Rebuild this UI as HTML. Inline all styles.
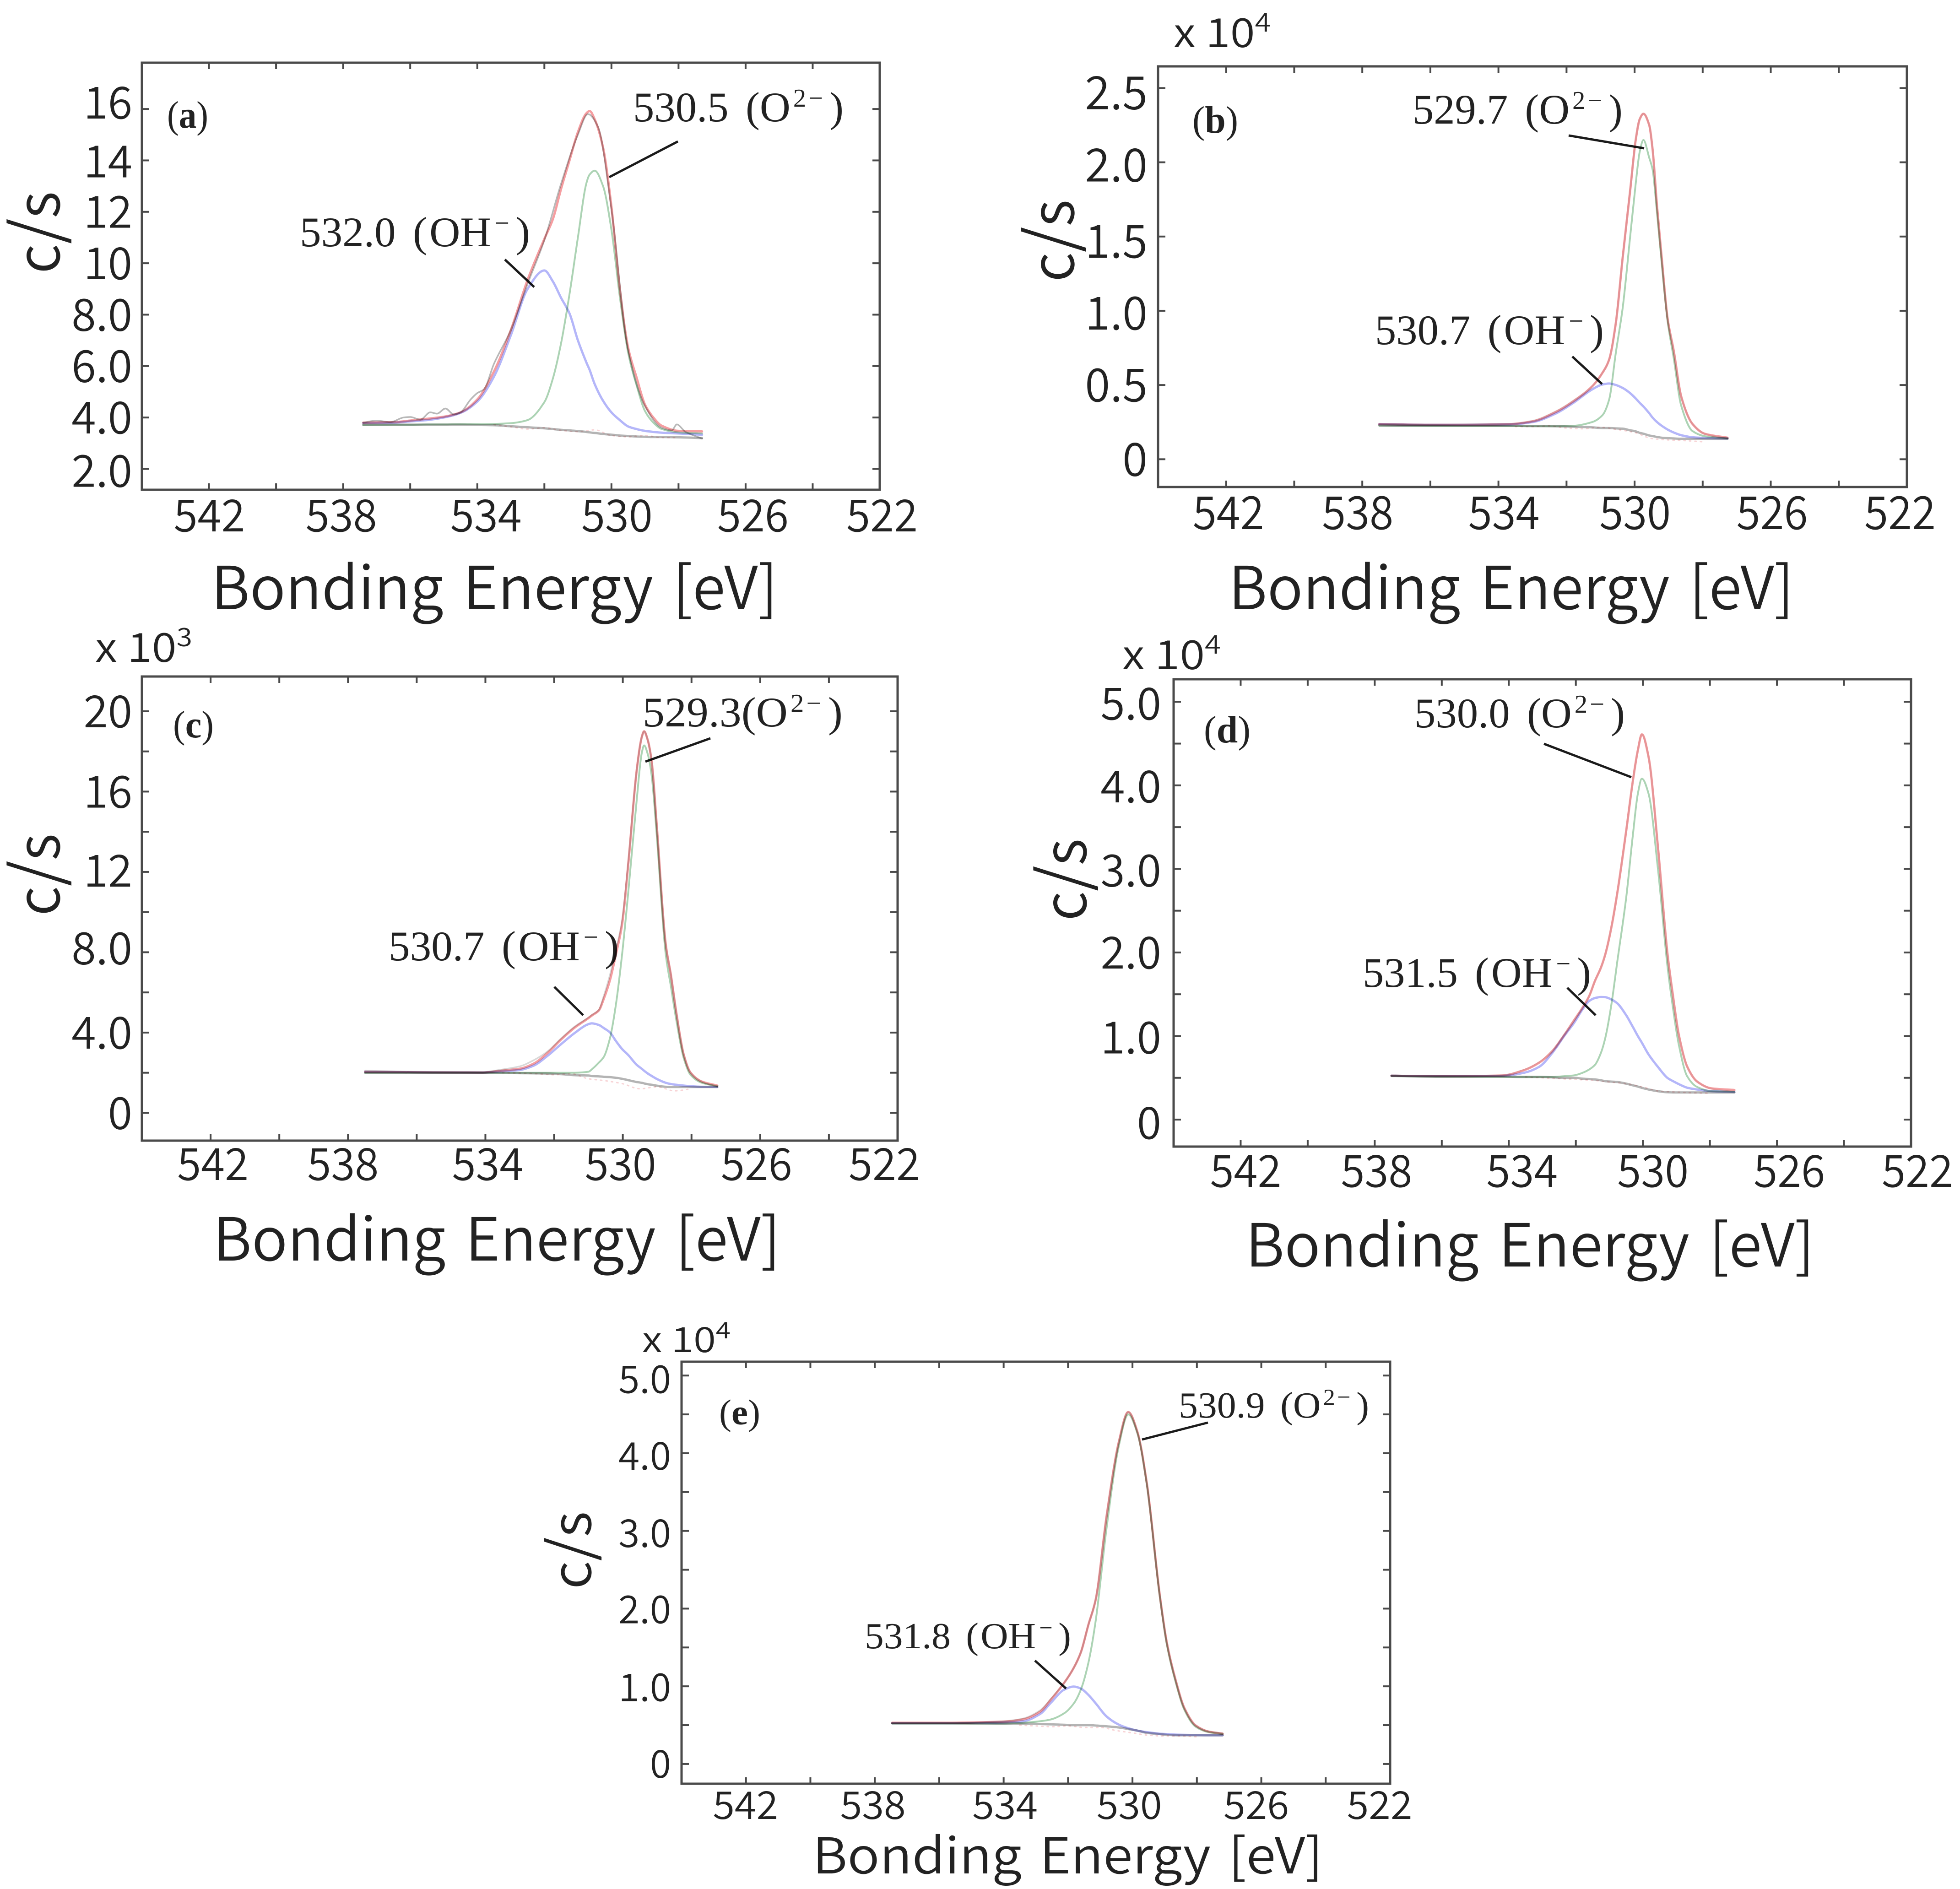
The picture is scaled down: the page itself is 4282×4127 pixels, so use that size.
<!DOCTYPE html>
<html lang="en">
<head>
<meta charset="utf-8">
<title>O 1s XPS spectra panels</title>
<style>
html,body{margin:0;padding:0;background:#fff;width:4282px;height:4127px;overflow:hidden}
svg{display:block}
.sans{font-family:"Noto Sans CJK JP","Liberation Sans",sans-serif;font-weight:350;fill:#222}
.serif{font-family:"Liberation Serif","Noto Serif CJK SC",serif;fill:#222}
.frame{fill:none;stroke:#4a4a4a;stroke-width:5}
.leader{stroke:#1a1a1a;stroke-width:5;fill:none}
.tick{stroke:#4a4a4a;stroke-width:4}
.curve{fill:none;stroke-linejoin:round;stroke-linecap:round;mix-blend-mode:multiply}
</style>
</head>
<body>
<svg id="chart" xmlns="http://www.w3.org/2000/svg" width="4282" height="4127" viewBox="0 0 4282 4127">
<rect width="4282" height="4127" fill="#fff"/>

<g id="panel-a">
<rect class="frame" x="310" y="137" width="1612" height="933"/>
<text class="sans" x="461" y="1331" font-size="130" word-spacing="14" textLength="1238" lengthAdjust="spacingAndGlyphs">Bonding Energy [eV]</text>
<text class="sans" transform="translate(130,598) rotate(-90)" font-size="130" textLength="180" lengthAdjust="spacingAndGlyphs">c<tspan font-size="146">/</tspan>s</text>
<text class="serif" x="365" y="279" font-size="84" textLength="90" lengthAdjust="spacingAndGlyphs">(<tspan font-weight="bold">a</tspan>)</text>
<text class="serif" x="1383" y="265" font-size="92" textLength="460" lengthAdjust="spacingAndGlyphs">530.5 <tspan dx="14">(</tspan>O<tspan dx="6" dy="-32" font-size="56">2</tspan><tspan dx="5" font-size="56">−</tspan><tspan dx="14" dy="32">)</tspan></text>
<text class="serif" x="655" y="538" font-size="92" textLength="503" lengthAdjust="spacingAndGlyphs">532.0 <tspan dx="14">(</tspan><tspan dx="5">OH</tspan><tspan dx="8" dy="-32" font-size="56">−</tspan><tspan dx="14" dy="32">)</tspan></text>
<line class="leader" x1="1481" y1="309" x2="1331" y2="387"/>
<line class="leader" x1="1103" y1="567" x2="1167" y2="627"/>
</g>

<g id="panel-b">
<rect class="frame" x="2530" y="145" width="1636" height="919"/>
<text class="sans" x="2684" y="1331" font-size="130" word-spacing="14" textLength="1235" lengthAdjust="spacingAndGlyphs">Bonding Energy [eV]</text>
<text class="sans" transform="translate(2346,616) rotate(-90)" font-size="130" textLength="180" lengthAdjust="spacingAndGlyphs">c<tspan font-size="146">/</tspan>s</text>
<text class="sans" x="2564" y="103" font-size="88" textLength="212" lengthAdjust="spacingAndGlyphs">x 10<tspan dy="-34" font-size="56">4</tspan></text>
<text class="serif" x="2605" y="290" font-size="84" textLength="100" lengthAdjust="spacingAndGlyphs">(<tspan font-weight="bold">b</tspan>)</text>
<text class="serif" x="3086" y="270" font-size="92" textLength="459" lengthAdjust="spacingAndGlyphs">529.7 <tspan dx="14">(</tspan>O<tspan dx="6" dy="-32" font-size="56">2</tspan><tspan dx="5" font-size="56">−</tspan><tspan dx="14" dy="32">)</tspan></text>
<text class="serif" x="3004" y="752" font-size="92" textLength="500" lengthAdjust="spacingAndGlyphs">530.7 <tspan dx="14">(</tspan><tspan dx="5">OH</tspan><tspan dx="8" dy="-32" font-size="56">−</tspan><tspan dx="14" dy="32">)</tspan></text>
<line class="leader" x1="3427" y1="296" x2="3592" y2="324"/>
<line class="leader" x1="3435" y1="779" x2="3500" y2="839"/>
</g>

<g id="panel-c">
<rect class="frame" x="310" y="1478" width="1651" height="1014"/>
<text class="sans" x="465" y="2754" font-size="130" word-spacing="14" textLength="1240" lengthAdjust="spacingAndGlyphs">Bonding Energy [eV]</text>
<text class="sans" transform="translate(130,2001) rotate(-90)" font-size="130" textLength="180" lengthAdjust="spacingAndGlyphs">c<tspan font-size="146">/</tspan>s</text>
<text class="sans" x="208" y="1446" font-size="88" textLength="212" lengthAdjust="spacingAndGlyphs">x 10<tspan dy="-34" font-size="56">3</tspan></text>
<text class="serif" x="378" y="1611" font-size="84" textLength="89" lengthAdjust="spacingAndGlyphs">(<tspan font-weight="bold">c</tspan>)</text>
<text class="serif" x="1404" y="1587" font-size="92" textLength="437" lengthAdjust="spacingAndGlyphs">529.3(O<tspan dx="6" dy="-32" font-size="56">2</tspan><tspan dx="5" font-size="56">−</tspan><tspan dx="14" dy="32">)</tspan></text>
<text class="serif" x="849" y="2098" font-size="92" textLength="503" lengthAdjust="spacingAndGlyphs">530.7 <tspan dx="14">(</tspan><tspan dx="5">OH</tspan><tspan dx="8" dy="-32" font-size="56">−</tspan><tspan dx="14" dy="32">)</tspan></text>
<line class="leader" x1="1552" y1="1613" x2="1410" y2="1664"/>
<line class="leader" x1="1211" y1="2156" x2="1274" y2="2218"/>
</g>

<g id="panel-d">
<rect class="frame" x="2564" y="1484" width="1611" height="1021"/>
<text class="sans" x="2721" y="2767" font-size="130" word-spacing="14" textLength="1243" lengthAdjust="spacingAndGlyphs">Bonding Energy [eV]</text>
<text class="sans" transform="translate(2373,2012) rotate(-90)" font-size="130" textLength="180" lengthAdjust="spacingAndGlyphs">c<tspan font-size="146">/</tspan>s</text>
<text class="sans" x="2452" y="1462" font-size="88" textLength="215" lengthAdjust="spacingAndGlyphs">x 10<tspan dy="-34" font-size="56">4</tspan></text>
<text class="serif" x="2630" y="1622" font-size="84" textLength="102" lengthAdjust="spacingAndGlyphs">(<tspan font-weight="bold">d</tspan>)</text>
<text class="serif" x="3090" y="1589" font-size="92" textLength="460" lengthAdjust="spacingAndGlyphs">530.0 <tspan dx="14">(</tspan>O<tspan dx="6" dy="-32" font-size="56">2</tspan><tspan dx="5" font-size="56">−</tspan><tspan dx="14" dy="32">)</tspan></text>
<text class="serif" x="2977" y="2156" font-size="92" textLength="499" lengthAdjust="spacingAndGlyphs">531.5 <tspan dx="14">(</tspan><tspan dx="5">OH</tspan><tspan dx="8" dy="-32" font-size="56">−</tspan><tspan dx="14" dy="32">)</tspan></text>
<line class="leader" x1="3373" y1="1625" x2="3564" y2="1698"/>
<line class="leader" x1="3424" y1="2158" x2="3486" y2="2218"/>
</g>

<g id="panel-e">
<rect class="frame" x="1489" y="2975" width="1548" height="922"/>
<text class="sans" x="1775" y="4093" font-size="108" word-spacing="12" textLength="1115" lengthAdjust="spacingAndGlyphs">Bonding Energy [eV]</text>
<text class="sans" transform="translate(1291,3472) rotate(-90)" font-size="118" textLength="170" lengthAdjust="spacingAndGlyphs">c<tspan font-size="130">/</tspan>s</text>
<text class="sans" x="1403" y="2954" font-size="76" textLength="193" lengthAdjust="spacingAndGlyphs">x 10<tspan dy="-30" font-size="50">4</tspan></text>
<text class="serif" x="1571" y="3112" font-size="78" textLength="90" lengthAdjust="spacingAndGlyphs">(<tspan font-weight="bold">e</tspan>)</text>
<text class="serif" x="2575" y="3097" font-size="80" textLength="416" lengthAdjust="spacingAndGlyphs">530.9 <tspan dx="12">(</tspan>O<tspan dx="5" dy="-28" font-size="50">2</tspan><tspan dx="4" font-size="50">−</tspan><tspan dx="12" dy="28">)</tspan></text>
<text class="serif" x="1889" y="3601" font-size="80" textLength="451" lengthAdjust="spacingAndGlyphs">531.8 <tspan dx="12">(</tspan><tspan dx="4">OH</tspan><tspan dx="7" dy="-28" font-size="50">−</tspan><tspan dx="12" dy="28">)</tspan></text>
<line class="leader" x1="2639" y1="3108" x2="2495" y2="3145"/>
<line class="leader" x1="2261" y1="3628" x2="2329" y2="3689"/>
</g>
</svg>

<script>
// Shared x axis
const xTickValues = [542, 540, 538, 536, 534, 532, 530, 528, 526, 524, 522];
const xLabelValues = [542, 538, 534, 530, 526, 522];
const residualEnergy = [533.5,533,532.5,532,531.5,531,530.5,530,529.5,529,528.5,528];

// Panel a
const aEnergy = [537.4,536.5,536,535.5,535,534.5,534,533.5,533,532.5,532,531.75,531.5,531.25,531,530.75,530.65,530.5,530.25,530,529.75,529.5,529.25,529,528.75,528.5,528,527.3];
const aEnvelope = [3.8,3.82,3.88,3.95,4.03,4.2,4.7,5.8,7.4,9.35,10.95,11.7,12.9,14.0,15.1,15.83,15.92,15.6,14.5,12.2,9.0,6.7,5.55,4.5,4.0,3.68,3.48,3.46];
const aOH = [3.78,3.8,3.85,3.9,4.0,4.18,4.62,5.6,7.2,9.0,9.72,9.3,8.65,8.05,7.0,6.15,5.85,5.3,4.65,4.2,3.9,3.65,3.55,3.48,3.44,3.41,3.38,3.33];
const aO2 = [3.7,3.72,3.72,3.73,3.73,3.74,3.74,3.75,3.78,3.9,4.6,5.5,6.9,8.8,11.0,13.1,13.45,13.6,13.0,11.3,8.7,6.5,5.25,4.25,3.8,3.55,3.42,3.38];
const aBase = [3.72,3.72,3.72,3.72,3.72,3.72,3.71,3.7,3.66,3.62,3.58,3.55,3.52,3.5,3.47,3.44,3.42,3.4,3.36,3.33,3.3,3.28,3.26,3.25,3.24,3.24,3.23,3.2];
const aRawEnergy = [537.4,537,536.6,536.2,536,535.7,535.4,535.2,534.95,534.7,534.5,534.2,534,533.8,533.5,533,532.5,532,531.5,531,530.7,530.4,530,529.5,529,528.5,528.2,528.05,527.8,527.3];
const aRaw = [3.8,3.88,3.82,4.0,4.02,3.92,4.2,4.15,4.35,4.12,4.2,4.7,4.95,5.1,6.1,7.4,9.2,10.9,13.1,15.0,15.8,15.3,12.1,6.6,4.45,3.6,3.5,3.73,3.45,3.18];
const aResidual = [3.72,3.64,3.55,3.6,3.5,3.45,3.52,3.3,3.25,3.3,3.22,3.22];
const aYTicks = [2,4,6,8,10,12,14,16];
const aYLabels = ["2.0","4.0","6.0","8.0","10","12","14","16"];

// Panel b
const bEnergy = [537.5,536,535,533.7,533,532.3,531.8,531.25,530.95,530.75,530.55,530.35,530.13,529.97,529.85,529.74,529.57,529.47,529.34,529.2,529.03,528.85,528.63,528.3,527.93,527.27];
const bEnvelope = [.236,.232,.232,.236,.255,.32,.39,.49,.58,.67,.92,1.36,1.81,2.146,2.29,2.327,2.25,2.085,1.7,1.348,.947,.73,.422,.238,.171,.145];
const bOH = [.236,.232,.232,.234,.25,.31,.38,.47,.503,.51,.50,.48,.445,.41,.38,.355,.31,.28,.25,.225,.2,.18,.162,.148,.143,.14];
const bO2 = [.226,.224,.224,.224,.222,.222,.225,.25,.295,.40,.72,1.02,1.5,1.85,2.07,2.15,2.03,1.95,1.655,1.31,.93,.68,.36,.19,.155,.14];
const bBase = [.228,.226,.225,.225,.224,.222,.219,.215,.21,.21,.208,.206,.195,.188,.178,.172,.16,.156,.15,.145,.142,.14,.138,.138,.138,.138];
const bRaw = [.24,.23,.235,.238,.26,.325,.395,.49,.58,.67,.92,1.36,1.81,2.146,2.29,2.327,2.25,2.085,1.7,1.348,.947,.73,.422,.238,.171,.14];
const bResidual = [.22,.22,.225,.21,.205,.215,.2,.18,.14,.13,.125,.118];
const bYTicks = [0,.5,1,1.5,2,2.5];
const bYLabels = ["0","0.5","1.0","1.5","2.0","2.5"];

// Panel c
const cEnergy = [537.5,536,534.1,533.6,533,532.6,532.2,531.8,531.4,531,530.9,530.7,530.55,530.37,530.2,530.02,529.84,529.6,529.45,529.38,529.28,529.16,529.02,528.75,528.6,528.44,528.23,528.03,527.7,527.25];
const cEnvelope = [2.05,2.02,2.01,2.09,2.2,2.45,2.97,3.65,4.25,4.72,4.85,5.1,5.7,6.64,7.9,9.4,12.4,17.0,18.7,19.0,18.6,17.5,14.5,8.4,6.87,4.97,2.92,2.01,1.56,1.36];
const cOH = [2.05,2.02,2.01,2.06,2.14,2.35,2.83,3.42,3.98,4.42,4.46,4.38,4.22,4.0,3.58,3.18,2.88,2.4,2.2,2.1,1.97,1.84,1.7,1.5,1.44,1.4,1.36,1.33,1.3,1.29];
const cO2 = [2.0,2.0,2.0,2.0,2.0,2.0,2.0,2.0,2.0,2.05,2.17,2.5,2.8,3.75,5.4,7.9,11.0,15.5,17.9,18.3,17.9,16.8,14.0,7.9,6.3,4.6,2.75,1.9,1.5,1.33];
const cBase = [2.0,2.0,2.0,1.99,1.98,1.97,1.96,1.93,1.88,1.86,1.84,1.82,1.8,1.78,1.75,1.7,1.63,1.54,1.5,1.47,1.43,1.4,1.36,1.3,1.29,1.29,1.29,1.29,1.29,1.29];
const cRaw = [2.1,2.05,2.03,2.14,2.32,2.62,3.05,3.7,4.3,4.75,4.88,5.12,5.85,6.9,8.1,9.6,12.5,17.0,18.7,19.0,18.6,17.5,14.5,8.4,6.87,4.97,2.92,2.01,1.55,1.3];
const cResidual = [2.0,1.98,1.95,1.9,1.95,1.7,1.6,1.45,1.2,1.3,1.1,1.2];
const cYTicks = [0,2,4,6,8,10,12,14,16,18,20];
const cYLabels = ["0","","4.0","","8.0","","12","","16","","20"];

// Panel d
const dEnergy = [537.5,536,534.2,533.55,533.1,532.7,532.35,532.05,531.8,531.6,531.43,531.25,531.12,530.95,530.76,530.5,530.3,530.15,530.03,529.83,529.55,529.27,529.1,528.93,528.68,528.38,527.95,527.27];
const dEnvelope = [.525,.518,.528,.591,.68,.82,1.01,1.19,1.34,1.48,1.66,1.82,1.98,2.28,2.72,3.45,4.05,4.42,4.61,4.34,3.26,2.0,1.476,1.02,.637,.455,.373,.354];
const dOH = [.525,.518,.524,.56,.63,.8,1.0,1.16,1.32,1.42,1.455,1.467,1.465,1.44,1.39,1.25,1.11,1.0,.92,.78,.63,.5,.46,.425,.382,.36,.34,.33];
const dO2 = [.52,.51,.51,.51,.51,.51,.52,.53,.56,.6,.655,.8,.98,1.35,1.9,2.65,3.4,3.9,4.08,3.9,3.0,1.85,1.33,.9,.52,.39,.34,.335];
const dBase = [.525,.518,.515,.51,.51,.505,.5,.5,.49,.485,.48,.47,.46,.455,.45,.43,.41,.395,.38,.36,.34,.327,.325,.325,.325,.325,.325,.325];
const dRaw = [.53,.52,.532,.595,.685,.825,1.015,1.19,1.34,1.48,1.66,1.82,1.98,2.28,2.72,3.45,4.05,4.42,4.61,4.34,3.26,2.0,1.476,1.02,.637,.455,.37,.33];
const dResidual = [.51,.5,.49,.48,.47,.45,.43,.39,.34,.33,.32,.315];
const dYTicks = [0,.5,1,1.5,2,2.5,3,3.5,4,4.5,5];
const dYLabels = ["0","","1.0","","2.0","","3.0","","4.0","","5.0"];

// Panel e
const eEnergy = [537.46,536,534,533.4,532.87,532.53,532.12,531.82,531.6,531.37,531.14,530.8,530.42,530.13,529.85,529.55,529.16,528.93,528.65,528.38,528.04,527.64,527.2];
const eEnvelope = [.53,.53,.545,.574,.672,.83,1.045,1.24,1.44,1.79,2.12,3.2,4.15,4.53,4.28,3.6,2.2,1.555,1.065,.712,.496,.417,.39];
const eOH = [.525,.525,.535,.55,.643,.79,.957,.996,.97,.89,.78,.61,.506,.46,.43,.41,.39,.385,.378,.375,.372,.37,.37];
const eO2 = [.52,.52,.52,.53,.55,.574,.653,.78,.96,1.3,1.85,3.05,4.1,4.5,4.26,3.58,2.18,1.53,1.04,.69,.48,.41,.385];
const eBase = [.525,.525,.52,.52,.515,.51,.505,.5,.5,.5,.495,.485,.47,.45,.43,.4,.385,.375,.37,.37,.37,.37,.37];
const eRaw = [.52,.52,.55,.585,.69,.84,1.045,1.24,1.44,1.79,2.12,3.2,4.15,4.53,4.28,3.6,2.2,1.555,1.065,.712,.496,.42,.395];
const eResidual = [.5,.49,.48,.49,.47,.47,.43,.4,.37,.36,.36,.35];
const eYTicks = [0,.5,1,1.5,2,2.5,3,3.5,4,4.5,5];
const eYLabels = ["0","","1.0","","2.0","","3.0","","4.0","","5.0"];

const NS = "http://www.w3.org/2000/svg";

function make(tag, attrs, parent) {
  const el = document.createElementNS(NS, tag);
  for (const k in attrs) el.setAttribute(k, attrs[k]);
  parent.appendChild(el);
  return el;
}

// Monotone cubic path through the mapped data points
function curvePath(xs, ys) {
  const n = Math.min(xs.length, ys.length);
  const d = [], m = [];
  for (let i = 0; i < n - 1; i++) d.push((ys[i + 1] - ys[i]) / (xs[i + 1] - xs[i]));
  m[0] = d[0];
  m[n - 1] = d[n - 2];
  for (let i = 1; i < n - 1; i++) {
    m[i] = d[i - 1] * d[i] <= 0 ? 0 : 2 * d[i - 1] * d[i] / (d[i - 1] + d[i]);
  }
  let p = "M" + xs[0].toFixed(1) + " " + ys[0].toFixed(1);
  for (let i = 0; i < n - 1; i++) {
    const h = (xs[i + 1] - xs[i]) / 3;
    p += "C" + (xs[i] + h).toFixed(1) + " " + (ys[i] + m[i] * h).toFixed(1) + " " +
         (xs[i + 1] - h).toFixed(1) + " " + (ys[i + 1] - m[i + 1] * h).toFixed(1) + " " +
         xs[i + 1].toFixed(1) + " " + ys[i + 1].toFixed(1);
  }
  return p;
}

function drawPanel(p) {
  const g = document.getElementById("panel-" + p.id);
  const scaleX = e => p.left + (544 - e) / 22 * (p.right - p.left);
  const scaleY = v => p.bottom - (v - p.yMin) / (p.yMax - p.yMin) * (p.bottom - p.top);

  // X ticks on bottom and top edges
  xTickValues.forEach(v => {
    const x = scaleX(v);
    const b = make("line", {class: "tick", x1: x, x2: x, y1: p.bottom, y2: p.bottom - 14}, g);
    
    
    const t = make("line", {class: "tick", x1: x, x2: x, y1: p.top, y2: p.top + 14}, g);
    
    
  });
  xLabelValues.forEach((v, i) => {
    const lab = make("text", {class: "sans", x: scaleX(v) + p.xNudge[i], y: p.xLabelY, "font-size": p.tickSize, "text-anchor": "middle", textLength: p.xLabelW, lengthAdjust: "spacingAndGlyphs"}, g);
    
    
    lab.textContent = String(v);
  });

  // Y ticks on left and right edges
  p.yTicks.forEach((v, i) => {
    const y = scaleY(v);
    const l = make("line", {class: "tick", x1: p.left, x2: p.left + 16, y1: y, y2: y}, g);
    
    
    const r = make("line", {class: "tick", x1: p.right, x2: p.right - 16, y1: y, y2: y}, g);
    
    
    if (p.yLabels[i]) {
      const lab = make("text", {class: "sans", x: p.yLabelX, y: y + p.tickSize * 0.36 + p.yNudge[i], "font-size": p.tickSize, "text-anchor": "end"}, g);
      
      
      lab.textContent = p.yLabels[i];
    }
  });

  // Series
  const xs = p.energy.map(scaleX);
  const res = make("path", {class: "curve", d: curvePath(residualEnergy.map(scaleX), p.residual.map(scaleY)), stroke: "#f8d4d6", "stroke-width": 3, "stroke-dasharray": "3 9"}, g);
  
  
  const raw = make("path", {class: "curve", d: curvePath(p.rawEnergy.map(scaleX), p.raw.map(scaleY)), stroke: p.rawColor, "stroke-width": 3.5}, g);
  
  
  const env = make("path", {class: "curve", d: curvePath(xs, p.envelope.map(scaleY)), stroke: "#f59ea1", "stroke-width": 5}, g);
  
  
  const oh = make("path", {class: "curve", d: curvePath(xs, p.oh.map(scaleY)), stroke: "#b4b6f9", "stroke-width": 5}, g);
  
  
  const o2 = make("path", {class: "curve", d: curvePath(xs, p.o2.map(scaleY)), stroke: "#acd3b4", "stroke-width": 4}, g);
  
  
  const base = make("path", {class: "curve", d: curvePath(xs, p.base.map(scaleY)), stroke: "#b4b4b4", "stroke-width": 5}, g);
  
  
}

drawPanel({id: "a", rawColor: "#b8b8b8", left: 310, right: 1922, top: 137, bottom: 1070, yMin: 1.19, yMax: 17.8, yLabelX: 289, xLabelY: 1161, xLabelW: 156, tickSize: 97, xNudge: [1,-4,19,12,16,5], yNudge: [4,0,0,0,0,0,2,-14], yTicks: aYTicks, yLabels: aYLabels, energy: aEnergy, envelope: aEnvelope, oh: aOH, o2: aO2, base: aBase, rawEnergy: aRawEnergy, raw: aRaw, residual: aResidual});
drawPanel({id: "b", rawColor: "#ececec", left: 2530, right: 4166, top: 145, bottom: 1064, yMin: -0.187, yMax: 2.646, yLabelX: 2507, xLabelY: 1156, xLabelW: 156, tickSize: 100, xNudge: [5,-10,12,1,3,-15], yNudge: [0,0,5,10,6,10], yTicks: bYTicks, yLabels: bYLabels, energy: bEnergy, envelope: bEnvelope, oh: bOH, o2: bO2, base: bBase, rawEnergy: bEnergy, raw: bRaw, residual: bResidual});
drawPanel({id: "c", rawColor: "#d8d8d8", left: 310, right: 1961, top: 1478, bottom: 2492, yMin: -1.38, yMax: 21.73, yLabelX: 289, xLabelY: 2578, xLabelW: 156, tickSize: 97, xNudge: [5,-11,5,-5,-8,-29], yNudge: [0,0,0,0,-9,0,-3,0,0,0,0], yTicks: cYTicks, yLabels: cYLabels, energy: cEnergy, envelope: cEnvelope, oh: cOH, o2: cO2, base: cBase, rawEnergy: cEnergy, raw: cRaw, residual: cResidual});
drawPanel({id: "d", rawColor: "#f0f0f0", left: 2564, right: 4175, top: 1484, bottom: 2505, yMin: -0.323, yMax: 5.27, yLabelX: 2537, xLabelY: 2593, xLabelW: 156, tickSize: 97, xNudge: [11,4,29,22,27,14], yNudge: [7,0,3,0,0,0,3,0,2,0,4], yTicks: dYTicks, yLabels: dYLabels, energy: dEnergy, envelope: dEnvelope, oh: dOH, o2: dO2, base: dBase, rawEnergy: dEnergy, raw: dRaw, residual: dResidual});
drawPanel({id: "e", rawColor: "#d8d8d8", left: 1489, right: 3037, top: 2975, bottom: 3897, yMin: -0.254, yMax: 5.178, yLabelX: 1466, xLabelY: 3974, xLabelW: 143, tickSize: 84, xNudge: [-1,-4,3,-7,-11,-23], yNudge: [0,0,2,0,2,0,5,0,6,0,8], yTicks: eYTicks, yLabels: eYLabels, energy: eEnergy, envelope: eEnvelope, oh: eOH, o2: eO2, base: eBase, rawEnergy: eEnergy, raw: eRaw, residual: eResidual});
</script>
</body>
</html>
